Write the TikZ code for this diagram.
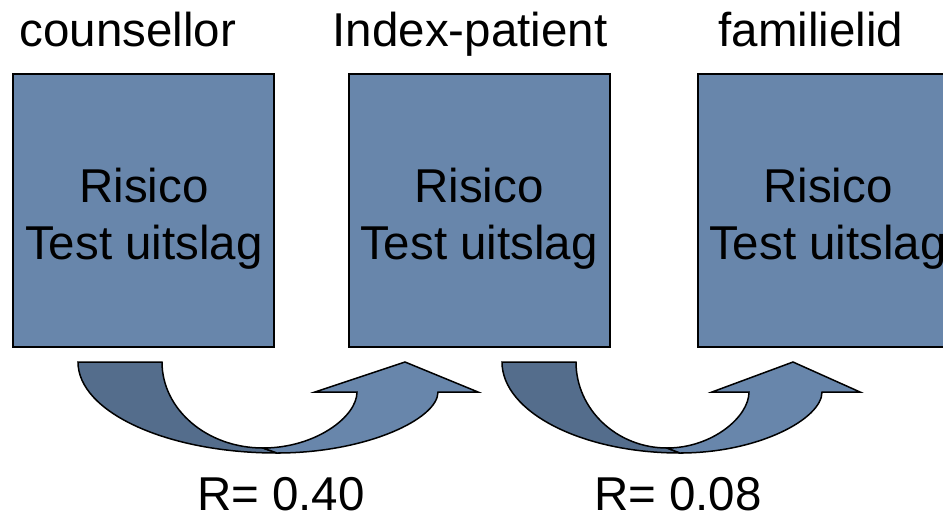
\documentclass[tikz,border=0pt]{standalone}
\usepackage{fontspec}
\setmainfont{Liberation Sans}
\definecolor{boxblue}{RGB}{104,134,171}
\definecolor{darkblue}{RGB}{84,109,140}
\begin{document}
\begin{tikzpicture}[x=1pt,y=-1pt,
  box/.style={draw=black,line width=2pt,fill=boxblue,minimum width=261pt,minimum height=273pt,inner sep=0pt},
  boxtext/.style={align=center,font=\fontsize{47.5}{57}\selectfont,inner sep=0pt},
  title/.style={anchor=base,font=\fontsize{47.5}{57}\selectfont,inner sep=0pt},
  arrowpart/.style={draw=black,line width=1.5pt,line join=miter}]
\useasboundingbox (0,0) rectangle (943,515);
\clip (0,0) rectangle (943,515);
% boxes
\node[box] (b1) at (143.5,210.5) {};
\node[box] (b2) at (479,210.5) {};
\node[box] (b3) at (828.5,210.5) {};
\node[boxtext] (t1) at (144,219) {Risico\\Test uitslag};
\node[boxtext] (t2) at (479,219) {Risico\\Test uitslag};
\node[boxtext] (t3) at (828,219) {Risico\\Test uitslag};
% titles
\node[title] (h1) at (128,46) {counsellor};
\node[title] (h2) at (470,46) {Index-patient};
\node[title] (h3) at (811,46) {familielid};
% curved arrow 1
\fill[darkblue,arrowpart] (78,362) -- (162,362) .. controls (162,409.5) and (207,448) .. (263,448)
  -- (277,453) .. controls (167,453) and (78,412) .. (78,362) -- cycle;
\fill[boxblue,arrowpart] (263,448) .. controls (315,448) and (357,417) .. (357,392)
  -- (315,392) -- (405,362) -- (478,392) -- (438,392)
  .. controls (438,419) and (366,453) .. (277,453) -- cycle;
% curved arrow 2
\fill[darkblue,arrowpart] (502,362) -- (576,362) .. controls (576,409.5) and (617,448) .. (667,448)
  -- (680,453) .. controls (582,453) and (502,412) .. (502,362) -- cycle;
\fill[boxblue,arrowpart] (667,448) .. controls (712,448) and (749,417) .. (749,392)
  -- (712,392) -- (793,362) -- (860,392) -- (822,392)
  .. controls (822,419) and (758,453) .. (680,453) -- cycle;
% labels
\node[title] (r1) at (281,510) {R= 0.40};
\node[title] (r2) at (678,510) {R= 0.08};
\end{tikzpicture}
\end{document}
